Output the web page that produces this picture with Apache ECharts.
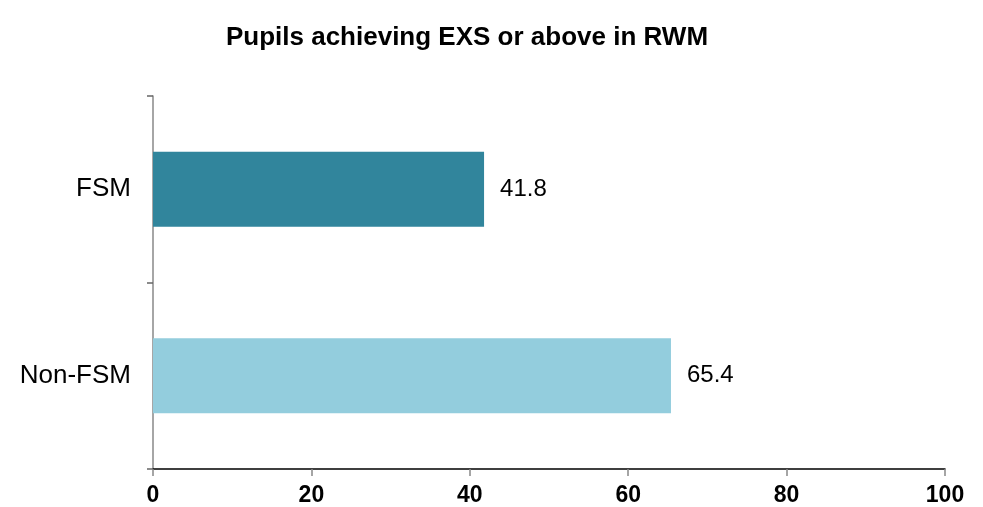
<!DOCTYPE html>
<html><head><meta charset="utf-8">
<script src="https://cdn.jsdelivr.net/npm/echarts@6/dist/echarts.min.js"></script>
<style>html,body{margin:0;padding:0;background:#fff}#c{width:983px;height:507px}</style>
</head><body><div id="c"></div>
<script>
const categories = ['FSM', 'Non-FSM'];
const values = [41.8, 65.4];
const barColors = ['#31859C', '#93CDDD'];
const xTicks = [0, 20, 40, 60, 80, 100];

const chart = echarts.init(document.getElementById('c'), null, {renderer: 'canvas'});
chart.setOption({
  animation: false,
  title: {
    text: 'Pupils achieving EXS or above in RWM',
    left: 462, top: 20, textAlign: 'center',
    textStyle: {fontFamily: 'Liberation Sans', fontWeight: 'bold', fontSize: 26, color: '#000'}
  },
  grid: {left: 153, right: 38, top: 96, bottom: 34, containLabel: false},
  xAxis: {
    type: 'value', min: xTicks[0], max: xTicks[xTicks.length - 1], interval: 20,
    axisLine: {show: true, lineStyle: {color: '#000', width: 1.5}},
    axisTick: {show: true, length: 7, lineStyle: {color: '#888', width: 1.5}},
    splitLine: {show: false},
    axisLabel: {fontFamily: 'Liberation Sans', fontWeight: 'bold', fontSize: 23, color: '#000', margin: 15}
  },
  yAxis: {
    type: 'category', data: categories, inverse: true,
    axisLine: {show: true, lineStyle: {color: '#888', width: 1.5}},
    axisTick: {show: true, length: 6, lineStyle: {color: '#666', width: 1.5}},
    axisLabel: {fontFamily: 'Liberation Sans', fontSize: 26, color: '#000', margin: 22}
  },
  series: [{
    type: 'bar', barWidth: 75,
    data: values.map((v, i) => ({value: v, itemStyle: {color: barColors[i]}})),
    label: {show: true, position: 'right', distance: 16, fontFamily: 'Liberation Sans', fontSize: 24, color: '#000'}
  }]
});
</script></body></html>
